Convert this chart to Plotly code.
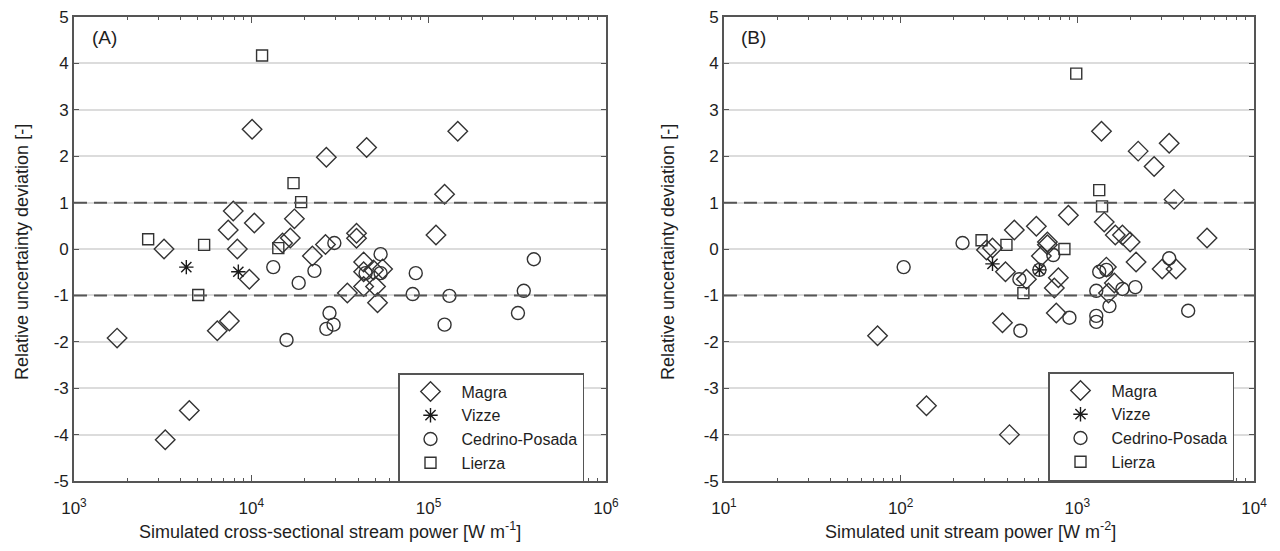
import plotly.graph_objects as go

# ---------------- Panel A: cross-sectional stream power [W m-1] ----------------
magra_a_x = [1750, 3270, 4470, 3220, 6430, 7520, 7910, 7410, 8340, 10400, 10100, 9750,
             17500, 16600, 15000, 26500, 22100, 26200, 34800, 39200, 39200, 43000, 43000,
             43000, 48900, 50200, 51500, 55000, 44700, 146000, 123000, 110000]
magra_a_y = [-1.92, -4.11, -3.48, 0.0, -1.76, -1.55, 0.82, 0.41, 0.0, 0.56, 2.58, -0.65,
             0.65, 0.24, 0.13, 1.98, -0.15, 0.10, -0.95, 0.34, 0.23, -0.28, -0.49,
             -0.81, -0.45, -0.81, -1.16, -0.43, 2.19, 2.54, 1.18, 0.30]
vizze_a_x = [4300, 8450]
vizze_a_y = [-0.39, -0.49]
cedrino_a_x = [13300, 15800, 18500, 22700, 29400, 27600, 29100, 26500, 53600, 53600,
               44100, 84600, 81300, 131000, 123000, 392000, 344000, 319000]
cedrino_a_y = [-0.39, -1.96, -0.73, -0.47, 0.13, -1.38, -1.63, -1.72, -0.11, -0.52,
               -0.52, -0.52, -0.97, -1.01, -1.63, -0.22, -0.90, -1.38]
lierza_a_x = [2620, 5420, 5020, 11500, 17300, 19100, 14200]
lierza_a_y = [0.21, 0.09, -0.99, 4.17, 1.42, 1.01, 0.02]

# ---------------- Panel B: unit stream power [W m-2] ----------------
magra_b_x = [74, 140, 413, 377, 306, 331, 392, 440, 515, 586, 677, 677, 626, 781, 741,
             760, 890, 1370, 2210, 3310, 2720, 3530, 1420, 1640, 1800, 1990, 5420, 2150,
             3020, 3620, 1460, 1500, 1620]
magra_b_y = [-1.87, -3.38, -4.00, -1.59, -0.02, 0.02, -0.49, 0.41, -0.65, 0.49, 0.15, 0.09,
             -0.15, -0.62, -0.84, -1.38, 0.73, 2.54, 2.11, 2.28, 1.78, 1.07, 0.58, 0.30,
             0.30, 0.15, 0.24, -0.28, -0.43, -0.43, -0.39, -0.95, -0.73]
vizze_b_x = [331, 610]
vizze_b_y = [-0.32, -0.45]
cedrino_b_x = [104, 224, 476, 470, 610, 731, 902, 1330, 1460, 1280, 1800, 2130, 1520,
               4240, 1280, 1280, 3310]
cedrino_b_y = [-0.39, 0.13, -1.76, -0.65, -0.45, -0.13, -1.48, -0.49, -0.45, -0.90, -0.86,
               -0.82, -1.23, -1.33, -1.44, -1.57, -0.20]
lierza_b_x = [287, 397, 495, 845, 986, 1330, 1380]
lierza_b_y = [0.19, 0.09, -0.95, 0.00, 3.78, 1.27, 0.92]

series_names = ["Magra", "Vizze", "Cedrino-Posada", "Lierza"]
y_ticks = [5, 4, 3, 2, 1, 0, -1, -2, -3, -4, -5]
y_ticktext = ["5", "4", "3", "2", "1", "0", "-1", "-2", "-3", "-4", "-5"]
xa_ticks = [1e3, 1e4, 1e5, 1e6]
xa_ticktext = ["10<sup>3</sup>", "10<sup>4</sup>", "10<sup>5</sup>", "10<sup>6</sup>"]
xb_ticks = [1e1, 1e2, 1e3, 1e4]
xb_ticktext = ["10<sup>1</sup>", "10<sup>2</sup>", "10<sup>3</sup>", "10<sup>4</sup>"]

INK = "#333333"
FRAME = "#555555"
FONT = "Arial, Liberation Sans, sans-serif"

styles = {
    "Magra": dict(symbol="diamond-open", size=15),
    "Vizze": dict(symbol="asterisk-open", size=12),
    "Cedrino-Posada": dict(symbol="circle-open", size=13),
    "Lierza": dict(symbol="square-open", size=11),
}

fig = go.Figure()

panels = [
    ("x", "y", "legend", [(magra_a_x, magra_a_y), (vizze_a_x, vizze_a_y),
                          (cedrino_a_x, cedrino_a_y), (lierza_a_x, lierza_a_y)]),
    ("x2", "y2", "legend2", [(magra_b_x, magra_b_y), (vizze_b_x, vizze_b_y),
                             (cedrino_b_x, cedrino_b_y), (lierza_b_x, lierza_b_y)]),
]
for xa, ya, lg, data in panels:
    for name, (xs, ys) in zip(series_names, data):
        st = styles[name]
        col = "#1a1a1a" if name == "Vizze" else INK
        fig.add_trace(go.Scatter(
            x=xs, y=ys, mode="markers", name=name, xaxis=xa, yaxis=ya, legend=lg,
            marker=dict(symbol=st["symbol"], size=st["size"], color=col,
                        line=dict(width=1.4, color=col)),
            showlegend=True, cliponaxis=False))

y_dom = [0.127, 0.9691]


def xaxis_cfg(domain, rng, tv, tt, anchor):
    minor_vals = []
    for e in range(int(rng[0]), int(rng[1])):
        for m in range(2, 10):
            minor_vals.append(m * 10 ** e)
    return dict(type="log", domain=domain, range=rng, anchor=anchor, automargin=False,
                tickmode="array", tickvals=tv, ticktext=tt,
                ticks="inside", ticklen=6, tickwidth=1.2, tickcolor=FRAME,
                minor=dict(tickmode="array", tickvals=minor_vals, ticks="inside",
                           ticklen=3, tickwidth=1, tickcolor=FRAME, showgrid=False),
                showline=True, linecolor=FRAME, linewidth=1.6, mirror="allticks",
                showgrid=False, zeroline=False, ticklabelstandoff=11,
                tickfont=dict(family=FONT, size=17, color="#1e1e1e"))


def yaxis_cfg(anchor):
    return dict(domain=y_dom, range=[-5, 5], anchor=anchor, automargin=False,
                tickmode="array", tickvals=y_ticks, ticktext=y_ticktext,
                ticks="inside", ticklen=5, tickwidth=1.2, tickcolor=FRAME,
                showline=True, linecolor=FRAME, linewidth=1.6, mirror="allticks",
                showgrid=True, gridcolor="#dcdcdc", gridwidth=1.5, zeroline=False,
                tickfont=dict(family=FONT, size=17, color="#1e1e1e"))


legend_common = dict(xanchor="left", yanchor="top", bordercolor=FRAME, borderwidth=1.5,
                     bgcolor="white", font=dict(family=FONT, size=16, color="#1e1e1e"),
                     itemwidth=52, tracegroupgap=0)

fig.update_layout(
    width=1280, height=551,
    margin=dict(l=0, r=0, t=0, b=0, autoexpand=False),
    paper_bgcolor="white", plot_bgcolor="white",
    font=dict(family=FONT, color="#1e1e1e"),
    xaxis=xaxis_cfg([0.0578, 0.4734], [3, 6], xa_ticks, xa_ticktext, "y"),
    yaxis=yaxis_cfg("x"),
    xaxis2=xaxis_cfg([0.5656, 0.9797], [1, 4], xb_ticks, xb_ticktext, "y2"),
    yaxis2=yaxis_cfg("x2"),
    legend=dict(x=398 / 1280, y=1 - 373 / 551, **legend_common),
    legend2=dict(x=1048 / 1280, y=1 - 372 / 551, **legend_common),
    showlegend=True,
)

shapes = []
for xr, yr in [("x domain", "y"), ("x2 domain", "y2")]:
    for yv in (1, -1):
        shapes.append(dict(type="line", xref=xr, yref=yr, x0=0, x1=1, y0=yv, y1=yv,
                           line=dict(color="#555555", width=2, dash="13px,7px"),
                           layer="above"))
fig.update_layout(shapes=shapes)

annotations = [
    dict(text="(A)", xref="paper", yref="paper", x=90 / 1280, y=1 - 37 / 551,
         xanchor="left", yanchor="middle", showarrow=False,
         font=dict(family=FONT, size=19, color="#1e1e1e")),
    dict(text="(B)", xref="paper", yref="paper", x=739 / 1280, y=1 - 37 / 551,
         xanchor="left", yanchor="middle", showarrow=False,
         font=dict(family=FONT, size=19, color="#1e1e1e")),
    dict(text="Simulated cross-sectional stream power [W m<sup>-1</sup>]", xref="paper",
         yref="paper", x=330 / 1280, y=1 - 530 / 551, xanchor="center", yanchor="middle",
         showarrow=False, font=dict(family=FONT, size=18, color="#1e1e1e")),
    dict(text="Simulated unit stream power [W m<sup>-2</sup>]", xref="paper",
         yref="paper", x=970 / 1280, y=1 - 530 / 551, xanchor="center", yanchor="middle",
         showarrow=False, font=dict(family=FONT, size=18, color="#1e1e1e")),
    dict(text="Relative uncertainty deviation [-]", xref="paper", yref="paper",
         x=22 / 1280, y=1 - 252 / 551, xanchor="center", yanchor="middle", textangle=-90,
         showarrow=False, font=dict(family=FONT, size=18, color="#1e1e1e")),
    dict(text="Relative uncertainty deviation [-]", xref="paper", yref="paper",
         x=668 / 1280, y=1 - 252 / 551, xanchor="center", yanchor="middle", textangle=-90,
         showarrow=False, font=dict(family=FONT, size=18, color="#1e1e1e")),
]
fig.update_layout(annotations=annotations)

fig.write_html("out.html")
